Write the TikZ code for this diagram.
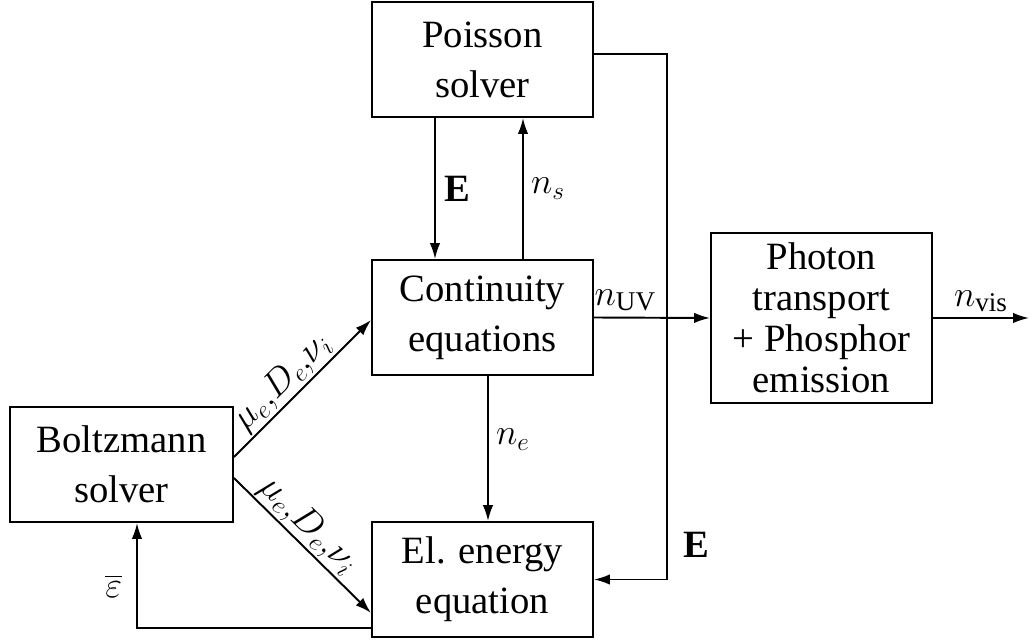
\documentclass[tikz,border=0pt]{standalone}
\usepackage{amsmath}
\usepackage{fontspec}
\setmainfont{Liberation Serif}
\usetikzlibrary{arrows.meta, positioning, calc}
\tikzset{
  block/.style={rectangle, draw=black, line width=1.1pt, align=center,
                inner sep=0pt, minimum width=4.42cm,
                font=\fontsize{22}{28.5}\selectfont},
  flow/.style={-{Latex[length=3.2mm, width=2.1mm]}, line width=1.1pt},
  lbl/.style={font=\fontsize{22}{26}\selectfont, inner sep=2pt},
  coef/.style={font=\fontsize{20}{24}\selectfont, inner sep=1pt},
}

\begin{document}
\begin{tikzpicture}[x=0.02cm, y=-0.02cm]
\useasboundingbox (0,0) rectangle (1031,641);

% Solver blocks, centred at pixel positions of the layout
\node[block, minimum height=2.30cm] (poisson) at (482.5,59.5)  {Poisson\\solver};
\node[block, minimum height=2.30cm] (cont)    at (482.5,317.5) {Continuity\\equations};
\node[block, minimum height=2.30cm] (energy)  at (482.5,579.5) {El. energy\\equation};
\node[block, minimum height=2.30cm, minimum width=4.46cm]
                                    (boltz)   at (121.5,464.5) {Boltzmann\\solver};
\node[block, minimum height=3.40cm, font=\fontsize{22}{23.3}\selectfont]
                                    (photon)  at (821.5,318)   {Photon\\transport\\+ Phosphor\\emission};

% Helper points for the loops
\coordinate (loopR)  at (667,0);
\coordinate (loopL)  at (137,628);
\coordinate (vis)    at (1029,318);

% Poisson <-> continuity
\draw[flow] ($(poisson.south)+(-47.5,0)$) -- node[lbl, right=3pt] {$\mathbf{E}$}
            ($(cont.north)+(-47.5,0)$);
\draw[flow] ($(cont.north)+(40.5,0)$) -- node[lbl, right=2pt] {$n_s$}
            ($(poisson.south)+(40.5,0)$);

% Field to the energy equation
\draw[flow] ($(poisson.east)+(0,-5.5)$) -- ($(loopR)+(0,54)$)
            -- node[lbl, pos=0.935, right=7pt] {$\mathbf{E}$} (loopR |- energy.east)
            -- (energy.east);

% Continuity outputs
\draw[flow] (cont.east) -- node[lbl, pos=0.27, above=1pt] {$n_{\mathrm{UV}}$} (photon.west);
\draw[flow] ($(cont.south)+(5.5,0)$) -- node[lbl, pos=0.44, right=2pt] {$n_e$}
            ($(energy.north)+(5.5,0)$);
\draw[flow] (photon.east) -- node[lbl, above=1pt] {$n_{\mathrm{vis}}$} (vis);

% Transport coefficients from Boltzmann
\draw[flow] ($(boltz.east)+(0,-7.5)$) -- node[coef, pos=0.45, above, sloped] {$\mu_e{,}D_e{,}\nu_i$}
            ($(cont.west)+(0,2.5)$);
\draw[flow] ($(boltz.east)+(0,13.5)$) -- node[coef, pos=0.45, above, sloped] {$\mu_e{,}D_e{,}\nu_i$}
            ($(energy.west)+(0,33.5)$);

% Mean energy back to Boltzmann
\draw[flow] (energy.west |- loopL) -- (loopL) -- node[lbl, pos=0.4, left=6pt] {$\overline{\varepsilon}$}
            (loopL |- boltz.south);

\end{tikzpicture}
\end{document}
